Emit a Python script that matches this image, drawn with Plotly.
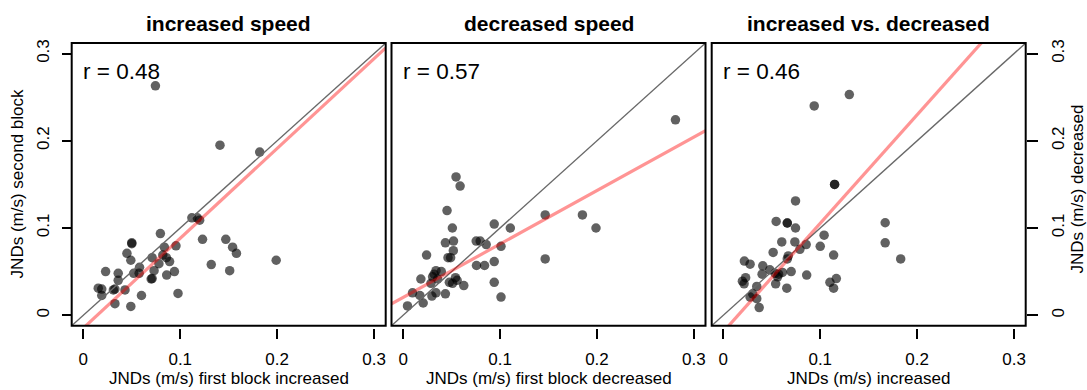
import plotly.graph_objects as go

W, H = 1087, 390

# ---------------- data ----------------
inc_first = [0.0744, 0.141, 0.182, 0.112, 0.1176, 0.120, 0.123, 0.147, 0.154, 0.158,
             0.199, 0.132, 0.151, 0.0795, 0.0956, 0.0836, 0.050, 0.050, 0.045, 0.049,
             0.071, 0.082, 0.0857, 0.089, 0.078, 0.073, 0.094, 0.086, 0.058, 0.052,
             0.0576, 0.070, 0.023, 0.036, 0.036, 0.0154, 0.019, 0.019, 0.031, 0.0326,
             0.043, 0.060, 0.0977, 0.0326, 0.049, 0.071]
inc_second = [0.263, 0.195, 0.187, 0.1117, 0.1117, 0.109, 0.087, 0.087, 0.078, 0.071,
              0.063, 0.058, 0.051, 0.0936, 0.0796, 0.078, 0.083, 0.082, 0.071, 0.063,
              0.066, 0.069, 0.066, 0.0615, 0.059, 0.051, 0.050, 0.046, 0.055, 0.048,
              0.048, 0.0415, 0.050, 0.048, 0.040, 0.031, 0.030, 0.0226, 0.029, 0.030,
              0.029, 0.0226, 0.025, 0.0132, 0.010, 0.042]

dec_first = [0.281, 0.0546, 0.0588, 0.0453, 0.1466, 0.185, 0.199, 0.094, 0.1106, 0.0508,
             0.0436, 0.052, 0.0754, 0.0795, 0.0857, 0.101, 0.0518, 0.0242, 0.0463, 0.049,
             0.1466, 0.0757, 0.084, 0.094, 0.094, 0.101, 0.0339, 0.0394, 0.0304, 0.0183,
             0.0356, 0.054, 0.0557, 0.0477, 0.051, 0.0626, 0.0287, 0.0339, 0.0297, 0.0436,
             0.0097, 0.0173, 0.0207, 0.0045, 0.032]
dec_second = [0.224, 0.1585, 0.148, 0.120, 0.115, 0.115, 0.100, 0.1045, 0.100, 0.100,
              0.083, 0.085, 0.085, 0.085, 0.081, 0.079, 0.074, 0.069, 0.066, 0.066,
              0.0645, 0.057, 0.057, 0.0615, 0.0377, 0.0208, 0.051, 0.050, 0.044, 0.0415,
              0.0415, 0.043, 0.040, 0.0377, 0.0366, 0.034, 0.0366, 0.0257, 0.0219, 0.0245,
              0.0257, 0.0226, 0.014, 0.0106, 0.047]

both_inc = [0.130, 0.0938, 0.1148, 0.1148, 0.0745, 0.0545, 0.066, 0.066, 0.0745, 0.167,
            0.167, 0.183, 0.104, 0.100, 0.1138, 0.0603, 0.0738, 0.0855, 0.079, 0.0514,
            0.067, 0.066, 0.0217, 0.0276, 0.0407, 0.040, 0.0534, 0.061, 0.070, 0.056,
            0.086, 0.054, 0.0655, 0.023, 0.0197, 0.0214, 0.0345, 0.0303, 0.0276, 0.0345,
            0.037, 0.110, 0.1166, 0.1138, 0.048, 0.057]
both_dec = [0.253, 0.240, 0.150, 0.150, 0.131, 0.1075, 0.1057, 0.1057, 0.100, 0.106,
            0.083, 0.0645, 0.0917, 0.079, 0.069, 0.084, 0.084, 0.081, 0.0755, 0.072,
            0.068, 0.0645, 0.062, 0.0585, 0.0566, 0.047, 0.048, 0.049, 0.050, 0.044,
            0.046, 0.036, 0.031, 0.043, 0.039, 0.036, 0.033, 0.0245, 0.0208, 0.019,
            0.0087, 0.0377, 0.042, 0.031, 0.052, 0.047]

panel_titles = ["increased speed", "decreased speed", "increased vs. decreased"]
x_titles = ["JNDs (m/s) first block increased", "JNDs (m/s) first block decreased",
            "JNDs (m/s) increased"]
y_titles = ["JNDs (m/s) second block", "", "JNDs (m/s) decreased"]
r_labels = ["r = 0.48", "r = 0.57", "r = 0.46"]
fit_intercepts = [-0.0148, 0.0203, -0.0190]
fit_slopes = [1.03, 0.613, 1.244]
tick_vals = [0, 0.1, 0.2, 0.3]
tick_text = ["0", "0.1", "0.2", "0.3"]

xs = [inc_first, dec_first, both_inc]
ys = [inc_second, dec_second, both_dec]

# ---------------- layout geometry ----------------
axis_range = [-0.012, 0.312]
panel_left = [71.7, 391.5, 711.7]
panel_w = 314.0
box_top, box_bot = 39.5, 325.0
FONT = "Liberation Sans, Arial, sans-serif"

fig = go.Figure()
layout = dict(
    width=W, height=H, margin=dict(l=0, r=0, t=0, b=0),
    paper_bgcolor="white", plot_bgcolor="white", showlegend=False,
    font=dict(family=FONT, size=17, color="black"),
)
annotations = []
shapes = []

for i in range(3):
    n = i + 1
    xa = "x" if n == 1 else f"x{n}"
    ya = "y" if n == 1 else f"y{n}"
    l = panel_left[i]
    xdom = [l / W, (l + panel_w) / W]
    ydom = [(H - box_bot) / H, (H - box_top) / H]

    fig.add_trace(go.Scatter(
        x=xs[i], y=ys[i], mode="markers", xaxis=xa, yaxis=ya,
        marker=dict(size=9.5, color="rgba(0,0,0,0.62)", line=dict(width=0)),
        hoverinfo="skip"))
    # identity line
    fig.add_trace(go.Scatter(
        x=axis_range, y=axis_range, mode="lines", xaxis=xa, yaxis=ya,
        line=dict(color="rgb(105,105,105)", width=1.4), hoverinfo="skip"))
    # regression line
    fy = [fit_intercepts[i] + fit_slopes[i] * v for v in axis_range]
    fig.add_trace(go.Scatter(
        x=axis_range, y=fy, mode="lines", xaxis=xa, yaxis=ya,
        line=dict(color="rgba(255,0,0,0.42)", width=3.2), hoverinfo="skip"))

    xkey = "xaxis" if n == 1 else f"xaxis{n}"
    ykey = "yaxis" if n == 1 else f"yaxis{n}"
    layout[xkey] = dict(
        domain=xdom, range=axis_range, anchor="free", position=(H - 327.5) / H,
        showgrid=False, zeroline=False, showline=False,
        ticks="outside", ticklen=10, tickwidth=2, tickcolor="black",
        tickvals=tick_vals, ticktext=tick_text, tickfont=dict(size=17, family=FONT),
        ticklabelstandoff=5)
    ycfg = dict(domain=ydom, range=axis_range, showgrid=False, zeroline=False,
                showline=False, tickvals=tick_vals, ticktext=tick_text,
                tickfont=dict(size=17, family=FONT))
    if i == 0:
        ycfg.update(anchor="free", position=l / W, side="left", ticks="outside",
                    ticklen=10, tickwidth=2, tickcolor="black", tickangle=-90,
                    ticklabelstandoff=6)
    elif i == 2:
        ycfg.update(anchor="free", position=(l + panel_w) / W, side="right",
                    ticks="outside", ticklen=11, tickwidth=2, tickcolor="black",
                    tickangle=-90, ticklabelstandoff=6)
    else:
        ycfg.update(anchor=xa, ticks="", showticklabels=False)
    layout[ykey] = ycfg

    # box
    shapes.append(dict(type="rect", xref="paper", yref="paper",
                       x0=xdom[0], x1=xdom[1], y0=ydom[0], y1=ydom[1],
                       line=dict(color="black", width=2), layer="above"))
    cx = (l + panel_w / 2) / W
    annotations.append(dict(text="<b>" + panel_titles[i] + "</b>", xref="paper", yref="paper",
                            x=cx, y=(H - 20) / H, xanchor="center", yanchor="middle",
                            showarrow=False, font=dict(size=21, family=FONT)))
    annotations.append(dict(text=x_titles[i], xref="paper", yref="paper",
                            x=cx, y=(H - 378) / H, xanchor="center", yanchor="middle",
                            showarrow=False, font=dict(size=17, family=FONT)))
    annotations.append(dict(text=r_labels[i], xref=xa, yref=ya, x=-0.002, y=0.28,
                            xanchor="left", yanchor="middle", showarrow=False,
                            font=dict(size=22.5, family=FONT)))

cy = (H - (box_top + box_bot) / 2) / H
annotations.append(dict(text=y_titles[0], xref="paper", yref="paper", x=17 / W, y=cy,
                        xanchor="center", yanchor="middle", textangle=-90,
                        showarrow=False, font=dict(size=17, family=FONT)))
annotations.append(dict(text=y_titles[2], xref="paper", yref="paper", x=1077.5 / W,
                        y=(H - 187) / H,
                        xanchor="center", yanchor="middle", textangle=-90,
                        showarrow=False, font=dict(size=17, family=FONT)))

layout["annotations"] = annotations
layout["shapes"] = shapes
fig.update_layout(**layout)
fig.write_html("out.html", config={"displayModeBar": False},
               post_script="document.body.style.margin='0';document.body.style.overflow='hidden';")
